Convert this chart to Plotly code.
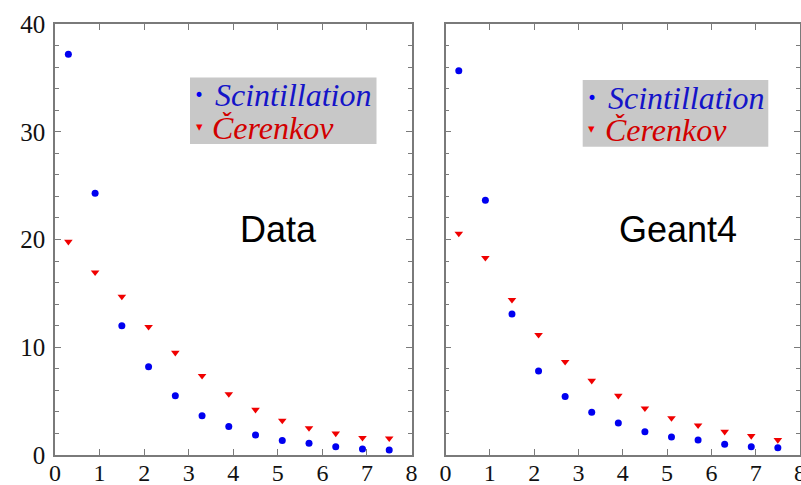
import plotly.graph_objects as go

# ---- data ----
x_vals = [0.3, 0.9, 1.5, 2.1, 2.7, 3.3, 3.9, 4.5, 5.1, 5.7, 6.3, 6.9, 7.5]
data_scint = [37.2, 24.3, 12.0, 8.2, 5.5, 3.65, 2.65, 1.85, 1.35, 1.08, 0.77, 0.56, 0.46]
data_ceren = [19.8, 16.95, 14.7, 11.9, 9.5, 7.35, 5.65, 4.2, 3.2, 2.5, 2.0, 1.6, 1.55]
geant_scint = [35.65, 23.65, 13.08, 7.8, 5.44, 3.96, 2.97, 2.16, 1.67, 1.39, 0.99, 0.77, 0.68]
geant_ceren = [20.55, 18.3, 14.4, 11.15, 8.65, 6.9, 5.5, 4.33, 3.43, 2.75, 2.16, 1.77, 1.4]
panel_titles = ["Data", "Geant4"]
series_names = ["Scintillation", "Čerenkov"]

W, H = 801, 485
ML, MR, MT, MB = 55, 1, 24, 30
PW = 800 - ML
PH = H - MT - MB


def px(xp):
    return (xp - ML) / PW


def py(yp):
    return (MT + PH - yp) / PH


BLUE = "#0000f0"
RED = "#f00000"
BLUE_TXT = "#1414c8"
RED_TXT = "#d20000"
AX = "#7a7a7a"

fig = go.Figure()
panels = [(data_scint, data_ceren, "x", "y"), (geant_scint, geant_ceren, "x2", "y2")]
for sc, ce, xa, ya in panels:
    fig.add_trace(go.Scatter(x=x_vals, y=sc, mode="markers", name=series_names[0],
                             xaxis=xa, yaxis=ya, showlegend=False,
                             marker=dict(symbol="circle", size=7, color=BLUE)))
    fig.add_trace(go.Scatter(x=x_vals, y=ce, mode="markers", name=series_names[1],
                             xaxis=xa, yaxis=ya, showlegend=False,
                             marker=dict(symbol="triangle-down", size=7.5, color=RED)))

xtickfont = dict(family="Liberation Serif", size=24, color="#111")
ytickfont = dict(family="Liberation Serif", size=25, color="#111")
xcommon = dict(range=[0, 8], dtick=1, tick0=0, ticks="inside", ticklen=6, tickwidth=1,
               tickcolor=AX, showline=True, linecolor=AX, linewidth=1.5, mirror="ticks",
               showgrid=False, zeroline=False, tickfont=xtickfont, automargin=False,
               ticklabelstandoff=-5, ticklabeloverflow="allow")
ycommon = dict(range=[0, 40], dtick=10, tick0=0, ticks="inside", ticklen=6, tickwidth=1,
               tickcolor=AX, showline=True, linecolor=AX, linewidth=1.5, mirror="ticks",
               showgrid=False, zeroline=False, tickfont=ytickfont, automargin=False,
               ticklabelstandoff=3, ticklabeloverflow="allow",
               minor=dict(dtick=2, ticks="inside", ticklen=4, tickcolor=AX, showgrid=False))

fig.update_layout(
    width=W, height=H,
    margin=dict(l=ML, r=MR, t=MT, b=MB),
    paper_bgcolor="white", plot_bgcolor="white",
    template="none",
    xaxis=dict(domain=[0, px(411.5)], anchor="y", **xcommon),
    yaxis=dict(domain=[0, 1], anchor="x", **ycommon),
    xaxis2=dict(domain=[px(445.5), 1], anchor="y2", **xcommon),
    yaxis2=dict(domain=[0, 1], anchor="x2", showticklabels=False, **ycommon),
)

# legend boxes and labels for each panel (pixel offsets)
legend_boxes = [(190, 77.5, 376.5, 144), (582.7, 80, 768.3, 146.7)]
title_pos = [(278, 229), (678, 230)]
for i, (x0, y0, x1, y1) in enumerate(legend_boxes):
    fig.add_shape(type="rect", xref="paper", yref="paper",
                  x0=px(x0), x1=px(x1), y0=py(y1), y1=py(y0),
                  fillcolor="#c8c8c8", line=dict(width=0), layer="below")
    row1 = y0 + 17.5
    row2 = y0 + 50
    fig.add_annotation(xref="paper", yref="paper", x=px(x0 + 9), y=py(row1),
                       text="•", showarrow=False, xanchor="center", yanchor="middle",
                       font=dict(family="DejaVu Sans", size=17, color=BLUE))
    fig.add_annotation(xref="paper", yref="paper", x=px(x0 + 9), y=py(row2 - 1),
                       text="▾", showarrow=False, xanchor="center", yanchor="middle",
                       font=dict(family="DejaVu Sans", size=13, color=RED))
    fig.add_annotation(xref="paper", yref="paper", x=px(x0 + 24), y=py(row1),
                       text=series_names[0], showarrow=False, xanchor="left", yanchor="middle",
                       height=32, borderpad=0, valign="middle",
                       font=dict(family="Liberation Serif", size=32, color=BLUE_TXT, style="italic"))
    fig.add_annotation(xref="paper", yref="paper", x=px(x0 + 21), y=py(row2),
                       text=series_names[1], showarrow=False, xanchor="left", yanchor="middle",
                       height=32, borderpad=0, valign="middle",
                       font=dict(family="Liberation Serif", size=32, color=RED_TXT, style="italic"))
    tx, ty = title_pos[i]
    fig.add_annotation(xref="paper", yref="paper", x=px(tx), y=py(ty),
                       text=panel_titles[i], showarrow=False, xanchor="center", yanchor="middle",
                       font=dict(family="Liberation Sans", size=36, color="black"))

fig.write_html("out.html", config={"displayModeBar": False},
               post_script="document.body.style.margin='0px';document.body.style.overflow='hidden';")
